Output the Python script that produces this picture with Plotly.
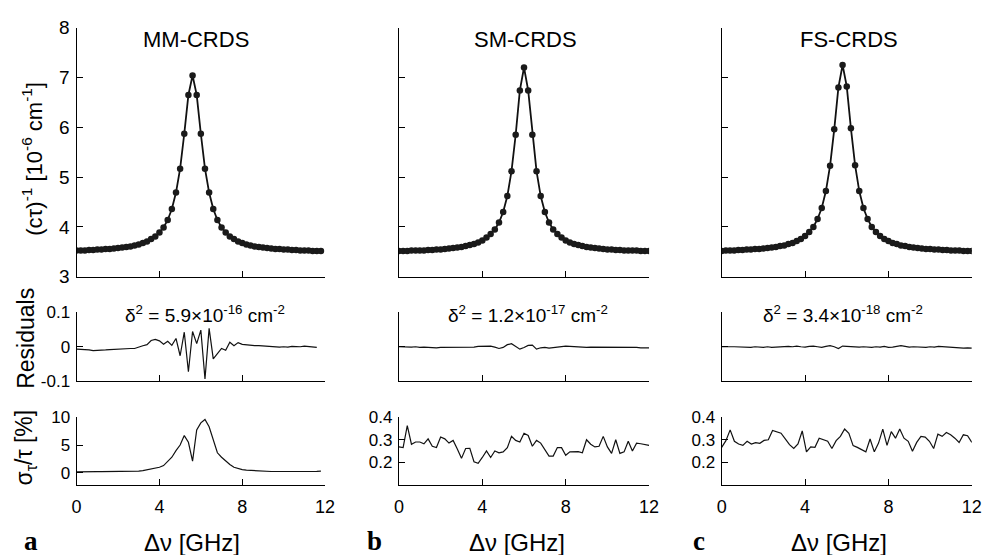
import numpy as np
import plotly.graph_objects as go

# ---------------- data ----------------
freq_mm = np.round(np.arange(0, 60) * 0.2, 1)          # 0 .. 11.8 GHz
freq_mm_res = np.round(np.arange(0, 59) * 0.2, 1)      # 0 .. 11.6 GHz
freq_full = np.round(np.arange(0, 61) * 0.2, 1)        # 0 .. 12.0 GHz
freq_fs_sig = np.linspace(0, 12, 60)

mm_signal = [3.53, 3.53, 3.53, 3.54, 3.54, 3.55, 3.55, 3.56, 3.56, 3.57,
             3.58, 3.59, 3.60, 3.61, 3.63, 3.65, 3.68, 3.71, 3.76, 3.81,
             3.89, 3.99, 4.14, 4.36, 4.69, 5.17, 5.87, 6.65, 7.04, 6.65,
             5.87, 5.17, 4.69, 4.36, 4.14, 3.99, 3.89, 3.81, 3.76, 3.71,
             3.68, 3.65, 3.63, 3.61, 3.60, 3.59, 3.58, 3.57, 3.56, 3.56,
             3.55, 3.55, 3.54, 3.54, 3.53, 3.53, 3.53, 3.52, 3.52, 3.52]

sm_signal = [3.52, 3.52, 3.52, 3.53, 3.53, 3.53, 3.53, 3.54, 3.54, 3.55,
             3.55, 3.56, 3.57, 3.58, 3.59, 3.60, 3.62, 3.64, 3.66, 3.69,
             3.73, 3.79, 3.86, 3.95, 4.09, 4.30, 4.62, 5.12, 5.85, 6.74,
             7.20, 6.74, 5.85, 5.12, 4.62, 4.30, 4.09, 3.95, 3.86, 3.79,
             3.73, 3.69, 3.66, 3.64, 3.62, 3.60, 3.59, 3.58, 3.57, 3.56,
             3.55, 3.55, 3.54, 3.54, 3.53, 3.53, 3.53, 3.53, 3.52, 3.52, 3.52]

fs_signal = [3.52, 3.53, 3.53, 3.53, 3.54, 3.54, 3.55, 3.55, 3.56, 3.56,
             3.57, 3.58, 3.59, 3.60, 3.62, 3.63, 3.66, 3.68, 3.72, 3.76,
             3.82, 3.90, 4.00, 4.16, 4.38, 4.72, 5.23, 5.96, 6.80, 7.25,
             6.82, 5.98, 5.24, 4.72, 4.38, 4.16, 4.00, 3.90, 3.82, 3.76,
             3.72, 3.68, 3.66, 3.63, 3.62, 3.60, 3.59, 3.58, 3.57, 3.56,
             3.56, 3.55, 3.55, 3.54, 3.54, 3.53, 3.53, 3.53, 3.52, 3.52, 3.52]

mm_resid = [-0.007, -0.007, -0.008, -0.009, -0.011, -0.011, -0.010, -0.009, -0.008, -0.007,
            -0.007, -0.006, -0.005, -0.005, -0.005, 0.000, 0.003, 0.006, 0.018, 0.021,
            0.017, 0.007, 0.016, 0.004, 0.024, -0.026, 0.042, -0.072, 0.044, 0.009,
            0.048, -0.093, 0.053, -0.035, -0.020, -0.005, -0.010, 0.013, 0.003, 0.012,
            0.007, 0.005, 0.004, 0.003, 0.003, 0.002, 0.001, 0.000, -0.002, -0.001,
            0.000, -0.001, 0.001, 0.000, 0.000, 0.002, 0.001, 0.001, -0.002]

sm_resid = [0.000, -0.001, -0.002, -0.001, 0.000, -0.002, -0.001, -0.002, -0.002, -0.003,
            -0.002, -0.002, -0.002, -0.003, -0.002, -0.002, -0.001, -0.002, -0.001, 0.001,
            0.002, 0.003, 0.002, -0.001, -0.005, -0.002, 0.006, 0.009, 0.002, -0.007,
            -0.002, 0.004, 0.005, -0.007, -0.003, -0.002, -0.004, -0.002, 0.000, 0.001,
            0.002, 0.001, 0.000, -0.001, 0.000, -0.002, -0.001, -0.001, 0.000, -0.002,
            -0.001, -0.002, -0.001, -0.002, -0.001, -0.002, -0.001, -0.002, -0.003, -0.004, -0.003]

fs_resid = [0.000, 0.001, 0.000, 0.000, -0.001, 0.000, -0.001, -0.002, 0.000, -0.001,
            -0.002, 0.000, -0.002, -0.001, 0.000, -0.001, 0.001, 0.000, 0.002, 0.000,
            -0.001, 0.001, 0.002, 0.000, -0.002, 0.001, 0.003, 0.000, -0.005, 0.002,
            0.001, -0.001, -0.002, -0.001, 0.000, -0.001, -0.002, 0.000, -0.001, 0.001,
            -0.002, -0.001, 0.002, 0.003, 0.001, -0.001, 0.000, -0.001, 0.000, -0.002,
            0.000, -0.001, 0.001, 0.000, -0.001, -0.002, -0.001, -0.003, -0.004, -0.003, -0.004]

mm_sigma = [0.17, 0.20, 0.20, 0.20, 0.20, 0.21, 0.21, 0.21, 0.21, 0.22,
            0.22, 0.22, 0.23, 0.24, 0.25, 0.29, 0.40, 0.52, 0.64, 0.80,
            1.00, 1.30, 2.10, 2.80, 4.00, 5.00, 6.70, 5.50, 2.10, 7.70,
            9.00, 9.60, 8.30, 6.00, 3.60, 2.80, 2.10, 1.50, 1.00, 0.75,
            0.58, 0.46, 0.40, 0.35, 0.29, 0.26, 0.24, 0.23, 0.23, 0.22,
            0.22, 0.22, 0.21, 0.21, 0.21, 0.21, 0.22, 0.22, 0.25, 0.28]

sm_sigma = [0.268, 0.265, 0.363, 0.280, 0.290, 0.290, 0.282, 0.304, 0.271, 0.265,
            0.312, 0.304, 0.285, 0.297, 0.259, 0.217, 0.261, 0.262, 0.202, 0.195,
            0.221, 0.250, 0.221, 0.250, 0.242, 0.246, 0.265, 0.315, 0.297, 0.290,
            0.329, 0.319, 0.271, 0.297, 0.285, 0.256, 0.227, 0.227, 0.265, 0.265,
            0.231, 0.246, 0.247, 0.247, 0.242, 0.300, 0.280, 0.268, 0.271, 0.315,
            0.268, 0.239, 0.300, 0.239, 0.246, 0.293, 0.250, 0.285, 0.282, 0.280, 0.275]

fs_sigma = [0.266, 0.296, 0.344, 0.293, 0.281, 0.275, 0.293, 0.281, 0.287, 0.284,
            0.297, 0.300, 0.341, 0.336, 0.329, 0.304, 0.278, 0.261, 0.281, 0.339,
            0.246, 0.268, 0.266, 0.307, 0.300, 0.293, 0.261, 0.296, 0.315, 0.348,
            0.329, 0.274, 0.266, 0.256, 0.246, 0.303, 0.246, 0.285, 0.347, 0.275,
            0.336, 0.307, 0.348, 0.307, 0.293, 0.249, 0.288, 0.315, 0.312, 0.293,
            0.261, 0.325, 0.315, 0.332, 0.322, 0.307, 0.288, 0.322, 0.318, 0.288]

panel_titles = ["MM-CRDS", "SM-CRDS", "FS-CRDS"]
panel_letters = ["a", "b", "c"]
delta_texts = ["δ<sup>2</sup> = 5.9×10<sup>-16</sup> cm<sup>-2</sup>",
               "δ<sup>2</sup> = 1.2×10<sup>-17</sup> cm<sup>-2</sup>",
               "δ<sup>2</sup> = 3.4×10<sup>-18</sup> cm<sup>-2</sup>"]
x_ticks = [0, 4, 8, 12]
top_yticks = [3, 4, 5, 6, 7, 8]
res_yticks = [-0.1, 0, 0.1]
res_yticklabels = ["-0.1", "0", "0.1"]
mm_sig_yticks = [0, 5, 10]
sig_yticks = [0.2, 0.3, 0.4]

# ---------------- layout geometry ----------------
W, H = 990, 555
FONT = "Liberation Sans, Arial, Helvetica, sans-serif"
SERIF = "Liberation Serif, Times New Roman, serif"
cols_px = [(72.7, 325.0), (400.0, 654.0), (727.7, 981.7)]
rows_px = [(18.3, 277.3), (314.0, 386.0), (423.3, 493.3)]


def xd(c):
    return [cols_px[c][0] / W, cols_px[c][1] / W]


def yd(r):
    return [1 - rows_px[r][1] / H, 1 - rows_px[r][0] / H]


fig = go.Figure()

series = {
    0: [(freq_mm, mm_signal), (freq_full, sm_signal), (freq_full, fs_signal)],
    1: [(freq_mm_res, mm_resid), (freq_full, sm_resid), (freq_full, fs_resid)],
    2: [(freq_mm, mm_sigma), (freq_full, sm_sigma), (freq_fs_sig, fs_sigma)],
}

layout = {}
for r in range(3):
    for c in range(3):
        n = r * 3 + c + 1
        xa = "xaxis" if n == 1 else f"xaxis{n}"
        ya = "yaxis" if n == 1 else f"yaxis{n}"
        xr = "x" if n == 1 else f"x{n}"
        yr = "y" if n == 1 else f"y{n}"
        xs, ys = series[r][c]
        if r == 0:
            fig.add_trace(go.Scatter(x=xs, y=ys, xaxis=xr, yaxis=yr, mode="lines+markers",
                                     line=dict(color="#111111", width=1.8),
                                     marker=dict(color="#1a1a1a", size=6.5),
                                     showlegend=False))
        else:
            fig.add_trace(go.Scatter(x=xs, y=ys, xaxis=xr, yaxis=yr, mode="lines",
                                     line=dict(color="#111111", width=1.2),
                                     showlegend=False))
        layout[xa] = dict(domain=xd(c), anchor=yr, range=[0, 12], showline=True,
                          linecolor="black", linewidth=1.2, ticks="inside", ticklen=6,
                          tickwidth=1.2, tickcolor="black", tickvals=x_ticks,
                          showticklabels=(r == 2), showgrid=False, zeroline=False,
                          ticklabelstandoff=6,
                          tickfont=dict(family=FONT, size=18, color="black"))
        yax = dict(domain=yd(r), anchor=xr, showline=True, linecolor="black",
                   linewidth=1.2, ticks="inside", ticklen=6, tickwidth=1.2,
                   tickcolor="black", showgrid=False, zeroline=False,
                   ticklabelstandoff=2,
                   tickfont=dict(family=FONT, size=17, color="black"))
        if r == 0:
            yax.update(range=[3, 8], tickvals=top_yticks, showticklabels=(c == 0),
                       tickfont=dict(family=FONT, size=19, color="black"))
        elif r == 1:
            yax.update(range=[-0.1, 0.1], tickvals=res_yticks, ticktext=res_yticklabels,
                       showticklabels=(c == 0))
        else:
            if c == 0:
                yax.update(range=[-2.14, 10], tickvals=mm_sig_yticks)
            else:
                yax.update(range=[0.1, 0.4], tickvals=sig_yticks)
        layout[ya] = yax

ann = []
title_x = [194, 528, 857]
delta_x = [203, 531, 851]
xlab_x = [190, 520, 847]
letter_x = [26, 375, 705]
for c in range(3):
    ann.append(dict(text=panel_titles[c], x=title_x[c] / W, y=1 - 31 / H, xref="paper",
                    yref="paper", showarrow=False, xanchor="center", yanchor="middle",
                    font=dict(family=FONT, size=22, color="black")))
    ann.append(dict(text=delta_texts[c], x=delta_x[c] / W, y=1 - 316 / H, xref="paper",
                    yref="paper", showarrow=False, xanchor="center", yanchor="middle",
                    font=dict(family=FONT, size=19, color="black")))
    ann.append(dict(text="Δν [GHz]", x=xlab_x[c] / W, y=0, xref="paper", yshift=-14,
                    yref="paper", showarrow=False, xanchor="center", yanchor="bottom",
                    font=dict(family=FONT, size=24, color="black")))
    ann.append(dict(text="<b>" + panel_letters[c] + "</b>", x=letter_x[c] / W, y=0,
                    yshift=-14, xref="paper", yref="paper", showarrow=False,
                    xanchor="center", yanchor="bottom",
                    font=dict(family=SERIF, size=27, color="black")))

ann.append(dict(text="(cτ)<sup>-1</sup> [10<sup>-6</sup> cm<sup>-1</sup>]", x=28 / W,
                y=1 - 155 / H, xref="paper", yref="paper", showarrow=False, textangle=-90,
                xanchor="center", yanchor="middle",
                font=dict(family=FONT, size=22, color="black")))
ann.append(dict(text="Residuals", x=21 / W, y=1 - 341 / H, xref="paper", yref="paper",
                showarrow=False, textangle=-90, xanchor="center", yanchor="middle",
                font=dict(family=FONT, size=23, color="black")))
ann.append(dict(text="σ<sub>τ</sub>/τ [%]", x=21 / W, y=1 - 455 / H, xref="paper",
                yref="paper", showarrow=False, textangle=-90, xanchor="center",
                yanchor="middle", font=dict(family=FONT, size=23, color="black")))

fig.update_layout(width=W, height=H, margin=dict(l=0, r=0, t=0, b=0),
                  paper_bgcolor="white", plot_bgcolor="white",
                  font=dict(family=FONT, color="black"), annotations=ann, **layout)

fig.write_html("out.html")
